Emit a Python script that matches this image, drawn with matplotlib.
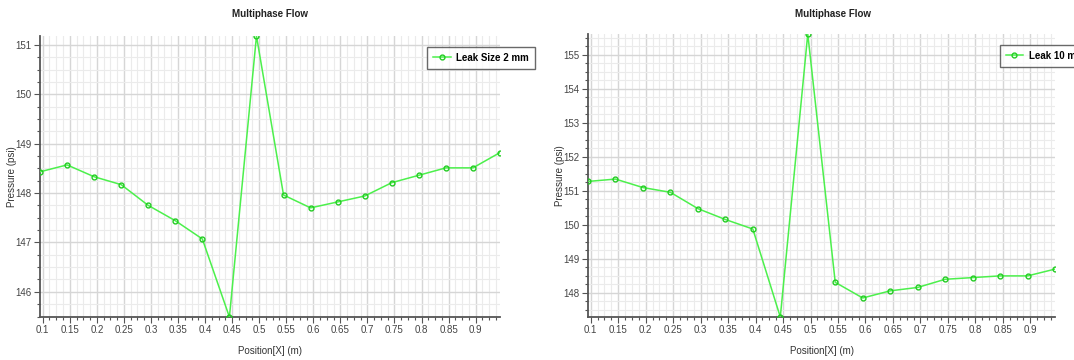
import matplotlib.pyplot as plt
from matplotlib.ticker import MultipleLocator, FormatStrFormatter

# sample positions along the pipe (m)
position = [0.095, 0.145, 0.195, 0.245, 0.295, 0.345, 0.395, 0.445, 0.495,
            0.545, 0.595, 0.645, 0.695, 0.745, 0.795, 0.845, 0.895, 0.945]

# pressure readings (psi)
p_leak_2mm = [148.43, 148.57, 148.33, 148.17, 147.75, 147.44, 147.07, 145.49, 151.18,
              147.96, 147.70, 147.82, 147.94, 148.21, 148.36, 148.51, 148.51, 148.82]
p_leak_10mm = [151.27, 151.34, 151.09, 150.95, 150.47, 150.15, 149.87, 147.28, 155.61,
               148.30, 147.84, 148.05, 148.15, 148.39, 148.44, 148.49, 148.49, 148.69]

xticks = [0.1, 0.15, 0.2, 0.25, 0.3, 0.35, 0.4, 0.45, 0.5, 0.55, 0.6, 0.65, 0.7, 0.75, 0.8, 0.85, 0.9]
xticklabels = ['0.1', '0.15', '0.2', '0.25', '0.3', '0.35', '0.4', '0.45', '0.5',
               '0.55', '0.6', '0.65', '0.7', '0.75', '0.8', '0.85', '0.9']

plt.rcParams['font.family'] = ['Liberation Sans', 'DejaVu Sans']

green = '#4cf04c'

fig = plt.figure(figsize=(10.74, 3.6), dpi=100)
W, H = 1074, 360


def panel(left, top, right, bottom, y, label, title_x):
    w, h = right - left, bottom - top
    ax = fig.add_axes([left / W, 1 - bottom / H, w / W, h / H])
    ax.plot(position, y, color=green, lw=1.1, marker='o', ms=3.5, mfc='none',
            mec='#22cc22', mew=1.0, label=label, zorder=3)
    ax.set_xlim(min(position), max(position))
    ax.set_ylim(min(y), max(y))
    ax.set_xticks(xticks)
    ax.set_xticklabels(xticklabels)
    ax.xaxis.set_minor_locator(MultipleLocator(0.0125))
    ax.yaxis.set_major_locator(MultipleLocator(1))
    ax.yaxis.set_minor_locator(MultipleLocator(0.25))
    ax.yaxis.set_major_formatter(FormatStrFormatter('%d'))
    ax.grid(which='major', color='#d6d6d6', lw=1.0)
    ax.grid(which='minor', color='#ebebeb', lw=0.8)
    for s in ['top', 'right']:
        ax.spines[s].set_visible(False)
    for s in ['left', 'bottom']:
        ax.spines[s].set_color('#555555')
        ax.spines[s].set_linewidth(1.3)
    ax.tick_params(which='major', length=4, width=0.8, color='#555555',
                   labelsize=7, labelcolor='#444444', pad=2)
    ax.tick_params(which='minor', length=2.5, width=0.8, color='#555555')
    ax.set_ylabel('Pressure (psi)', fontsize=7, color='#333333', va='center')
    ax.yaxis.set_label_coords(-28 / w, 0.5)
    ax.set_xlabel('Position[X] (m)', fontsize=7, color='#333333', va='center')
    ax.xaxis.set_label_coords(0.5, -34 / h)
    leg = ax.legend(loc='upper right', bbox_to_anchor=(1.076, 0.961), fontsize=7,
                    frameon=True, fancybox=False, borderpad=0.6, handlelength=1.8,
                    handletextpad=0.6, borderaxespad=0)
    leg.get_frame().set_edgecolor('#444444')
    leg.get_frame().set_linewidth(1.0)
    for t in leg.get_texts():
        t.set_fontweight('bold')
    fig.text(title_x / W, 1 - 14 / H, 'Multiphase Flow', ha='center', va='center',
             fontsize=7, fontweight='bold', color='#222222')
    return ax


panel(40, 36, 500, 317, p_leak_2mm, 'Leak Size 2 mm', 270)
panel(588, 34, 1055, 317, p_leak_10mm, 'Leak 10 mm', 833)

fig.savefig('out.png', dpi=100)
